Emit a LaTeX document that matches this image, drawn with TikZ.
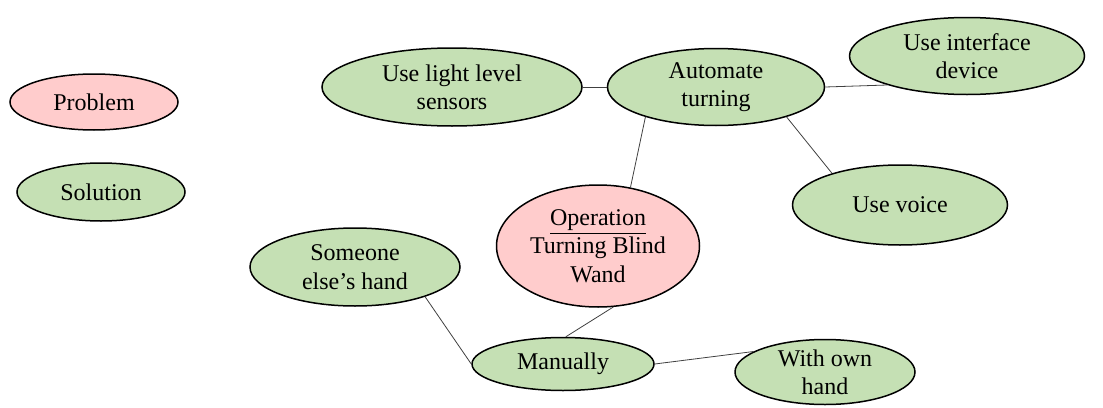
\documentclass[tikz,border=0pt]{standalone}
\usepackage{fontspec}
\setmainfont{Liberation Serif}
\usetikzlibrary{shapes.geometric}
\definecolor{probfill}{HTML}{FFCCCC}
\definecolor{solfill}{HTML}{C5E0B4}
\begin{document}
\begin{tikzpicture}[x=0.5pt,y=-0.5pt,
  bubble/.style={ellipse,draw=black,line width=0.75pt,align=center,inner sep=0pt,
    font=\fontsize{12}{14.2}\selectfont},
  prob/.style={bubble,fill=probfill},
  sol/.style={bubble,fill=solfill},
  link/.style={draw=black!75,line width=0.4pt}]
\useasboundingbox (0,0) rectangle (1103,407);
\node[prob,minimum width=84pt,minimum height=28pt] (problem) at (94,102) {Problem};
\node[sol,minimum width=84pt,minimum height=29pt] (solution) at (101,192) {Solution};
\node[sol,minimum width=130pt,minimum height=39pt] (light) at (452,87) {Use light level\\sensors};
\node[sol,minimum width=108.5pt,minimum height=38.5pt] (auto) at (716,87) {Automate\\turning};
\node[sol,minimum width=117.5pt,minimum height=38.5pt] (iface) at (967,56) {Use interface\\device};
\node[sol,minimum width=107.5pt,minimum height=40pt] (voice) at (900,205) {Use voice};
\node[prob,minimum width=101.5pt,minimum height=61pt] (oper) at (598,246) {\underline{Operation}\\Turning Blind\\Wand};
\node[sol,minimum width=105pt,minimum height=39pt] (someone) at (355,267) {Someone\\else's hand};
\node[sol,minimum width=91pt,minimum height=26.5pt] (manual) at (563,364) {Manually};
\node[sol,minimum width=90pt,minimum height=32.5pt] (ownhand) at (825,372) {With own\\hand};
\draw[link] (light.east) -- (auto.west);
\draw[link] (auto.east) -- (iface.200);
\draw[link] (auto.-23) -- (voice.155);
\draw[link] (auto.203) -- (oper.61);
\draw[link] (oper.284) -- (manual.84);
\draw[link] (someone.-23) -- (manual.west);
\draw[link] (manual.east) -- (ownhand.164);
\end{tikzpicture}
\end{document}
